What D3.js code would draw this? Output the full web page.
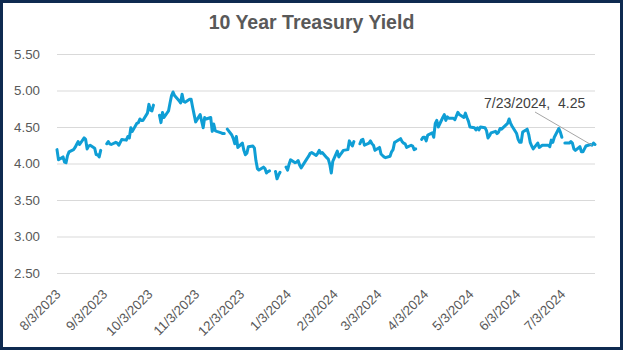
<!DOCTYPE html>
<html>
<head>
<meta charset="utf-8">
<script src="https://cdn.jsdelivr.net/npm/d3@7"></script>
<style>
  html, body { margin: 0; padding: 0; background: #fff; }
  svg { display: block; }
</style>
</head>
<body>
<svg id="chart" width="623" height="350"></svg>
<script>
// Daily 10-year Treasury yield (%); null marks a market holiday (gap in the line)
const dates = [
  "2023-08-03","2023-08-04","2023-08-07","2023-08-08","2023-08-09","2023-08-10","2023-08-11",
  "2023-08-14","2023-08-15","2023-08-16","2023-08-17","2023-08-18","2023-08-21","2023-08-22",
  "2023-08-23","2023-08-24","2023-08-25","2023-08-28","2023-08-29","2023-08-30","2023-08-31",
  "2023-09-01","2023-09-04","2023-09-05","2023-09-06","2023-09-07","2023-09-08","2023-09-11",
  "2023-09-12","2023-09-13","2023-09-14","2023-09-15","2023-09-18","2023-09-19","2023-09-20",
  "2023-09-21","2023-09-22","2023-09-25","2023-09-26","2023-09-27","2023-09-28","2023-09-29",
  "2023-10-02","2023-10-03","2023-10-04","2023-10-05","2023-10-06","2023-10-09","2023-10-10",
  "2023-10-11","2023-10-12","2023-10-13","2023-10-16","2023-10-17","2023-10-18","2023-10-19",
  "2023-10-20","2023-10-23","2023-10-24","2023-10-25","2023-10-26","2023-10-27","2023-10-30",
  "2023-10-31","2023-11-01","2023-11-02","2023-11-03","2023-11-06","2023-11-07","2023-11-08",
  "2023-11-09","2023-11-10","2023-11-13","2023-11-14","2023-11-15","2023-11-16","2023-11-17",
  "2023-11-20","2023-11-21","2023-11-22","2023-11-23","2023-11-24","2023-11-27","2023-11-28",
  "2023-11-29","2023-11-30","2023-12-01","2023-12-04","2023-12-05","2023-12-06","2023-12-07",
  "2023-12-08","2023-12-11","2023-12-12","2023-12-13","2023-12-14","2023-12-15","2023-12-18",
  "2023-12-19","2023-12-20","2023-12-21","2023-12-22","2023-12-25","2023-12-26","2023-12-27",
  "2023-12-28","2023-12-29","2024-01-01","2024-01-02","2024-01-03","2024-01-04","2024-01-05",
  "2024-01-08","2024-01-09","2024-01-10","2024-01-11","2024-01-12","2024-01-16","2024-01-17",
  "2024-01-18","2024-01-19","2024-01-22","2024-01-23","2024-01-24","2024-01-25","2024-01-26",
  "2024-01-29","2024-01-30","2024-01-31","2024-02-01","2024-02-02","2024-02-05","2024-02-06",
  "2024-02-07","2024-02-08","2024-02-09","2024-02-12","2024-02-13","2024-02-14","2024-02-15",
  "2024-02-16","2024-02-19","2024-02-20","2024-02-21","2024-02-22","2024-02-23","2024-02-26",
  "2024-02-27","2024-02-28","2024-02-29","2024-03-01","2024-03-04","2024-03-05","2024-03-06",
  "2024-03-07","2024-03-08","2024-03-11","2024-03-12","2024-03-13","2024-03-14","2024-03-15",
  "2024-03-18","2024-03-19","2024-03-20","2024-03-21","2024-03-22","2024-03-25","2024-03-26",
  "2024-03-27","2024-03-28","2024-03-29","2024-04-01","2024-04-02","2024-04-03","2024-04-04",
  "2024-04-05","2024-04-08","2024-04-09","2024-04-10","2024-04-11","2024-04-12","2024-04-15",
  "2024-04-16","2024-04-17","2024-04-18","2024-04-19","2024-04-22","2024-04-23","2024-04-24",
  "2024-04-25","2024-04-26","2024-04-29","2024-04-30","2024-05-01","2024-05-02","2024-05-03",
  "2024-05-06","2024-05-07","2024-05-08","2024-05-09","2024-05-10","2024-05-13","2024-05-14",
  "2024-05-15","2024-05-16","2024-05-17","2024-05-20","2024-05-21","2024-05-22","2024-05-23",
  "2024-05-24","2024-05-28","2024-05-29","2024-05-30","2024-05-31","2024-06-03","2024-06-04",
  "2024-06-05","2024-06-06","2024-06-07","2024-06-10","2024-06-11","2024-06-12","2024-06-13",
  "2024-06-14","2024-06-17","2024-06-18","2024-06-20","2024-06-21","2024-06-24","2024-06-25",
  "2024-06-26","2024-06-27","2024-06-28","2024-07-01","2024-07-02","2024-07-03","2024-07-04",
  "2024-07-05","2024-07-08","2024-07-09","2024-07-10","2024-07-11","2024-07-12","2024-07-15",
  "2024-07-16","2024-07-17","2024-07-18","2024-07-19","2024-07-22","2024-07-23","2024-07-24",
  "2024-07-25"
];
const yields = [
  4.19,4.05,4.09,4.02,4.01,4.11,4.16,
  4.19,4.22,4.26,4.30,4.26,4.35,4.33,
  4.20,4.24,4.25,4.21,4.12,4.12,4.09,
  4.18,null,4.27,4.30,4.27,4.26,4.29,
  4.28,4.25,4.29,4.33,4.32,4.37,4.35,
  4.49,4.44,4.55,4.56,4.61,4.59,4.59,
  4.69,4.81,4.73,4.72,4.80,null,4.66,
  4.56,4.70,4.63,4.72,4.83,4.93,4.98,
  4.93,4.86,4.83,4.95,4.85,4.84,4.88,
  4.88,4.77,4.67,4.57,4.67,4.58,4.49,
  4.63,4.61,4.63,4.44,4.54,4.45,4.44,
  4.42,4.41,4.41,null,4.47,4.39,4.34,
  4.27,4.37,4.22,4.28,4.18,4.12,4.14,
  4.23,4.24,4.21,4.04,3.93,3.91,3.95,
  3.93,3.87,3.89,3.90,null,3.89,3.79,
  3.84,3.88,null,3.95,3.91,3.99,4.05,
  4.01,4.02,4.04,3.98,3.94,4.07,4.10,
  4.14,4.15,4.11,4.14,4.18,4.14,4.15,
  4.08,4.06,3.99,3.87,4.03,4.17,4.09,
  4.12,4.15,4.18,4.19,4.31,4.27,4.24,
  4.30,null,4.27,4.32,4.33,4.25,4.28,
  4.31,4.27,4.25,4.18,4.22,4.13,4.11,
  4.09,4.08,4.10,4.16,4.19,4.29,4.30,
  4.34,4.30,4.28,4.27,4.22,4.25,4.24,
  4.19,4.20,null,4.33,4.36,4.36,4.31,
  4.39,4.42,4.36,4.55,4.59,4.50,4.63,
  4.67,4.59,4.64,4.62,4.62,4.60,4.65,
  4.70,4.67,4.63,4.69,4.63,4.58,4.50,
  4.49,4.46,4.49,4.46,4.50,4.49,4.45,
  4.35,4.38,4.42,4.44,4.41,4.43,4.48,
  4.47,4.55,4.61,4.55,4.51,4.41,4.33,
  4.29,4.29,4.43,4.47,4.40,4.29,4.24,
  4.20,4.28,4.22,4.25,4.25,4.25,4.23,
  4.32,4.29,4.36,4.48,4.43,4.36,null,
  4.28,4.28,4.30,4.28,4.20,4.18,4.23,
  4.16,4.16,4.20,4.24,4.26,4.25,4.28,
  4.26
];

const yTicks = [2.5, 3.0, 3.5, 4.0, 4.5, 5.0, 5.5];
const xTickDates = [
  "2023-08-03","2023-09-03","2023-10-03","2023-11-03","2023-12-03","2024-01-03",
  "2024-02-03","2024-03-03","2024-04-03","2024-05-03","2024-06-03","2024-07-03"
];
const titleText = "10 Year Treasury Yield";
const labelDate = "2024-07-23";
const labelValue = 4.25;

const parse = d3.timeParse("%Y-%m-%d");
const fmtDate = d => `${d.getMonth() + 1}/${d.getDate()}/${d.getFullYear()}`;

const series = dates.map((d, i) => ({ date: parse(d), value: yields[i] }));

const W = 623, H = 350;
const plot = { left: 57, right: 595, top: 54, bottom: 273 };

const svg = d3.select("#chart");

// background + frame
svg.append("rect")
  .attr("x", 1.5).attr("y", 1.5)
  .attr("width", W - 3).attr("height", H - 3)
  .attr("fill", "#fff")
  .attr("stroke", "#0E2A50").attr("stroke-width", 3);

const x = d3.scaleTime()
  .domain([parse(dates[0]), parse(dates[dates.length - 1])])
  .range([plot.left, plot.right]);

const y = d3.scaleLinear()
  .domain([2.5, 5.5])
  .range([plot.bottom, plot.top]);

// title
svg.append("text")
  .attr("x", 311.5).attr("y", 29)
  .attr("text-anchor", "middle")
  .attr("font-family", "'Liberation Sans', Arial, sans-serif")
  .attr("font-weight", "bold")
  .attr("font-size", 19.5)
  .attr("fill", "#595959")
  .text(titleText);

// y axis with gridlines
const yAxis = svg.append("g")
  .attr("transform", `translate(${plot.left},0)`)
  .call(d3.axisLeft(y)
    .tickValues(yTicks)
    .tickFormat(d3.format(".2f"))
    .tickSize(-(plot.right - plot.left))
    .tickPadding(17));
yAxis.select(".domain").remove();
yAxis.selectAll(".tick line").attr("stroke", "#D9D9D9").attr("stroke-width", 1);
yAxis.selectAll(".tick text")
  .attr("font-family", "'Liberation Sans', Arial, sans-serif")
  .attr("font-size", 13.3)
  .attr("fill", "#595959");

// x axis (date labels only)
const xAxis = svg.append("g")
  .attr("transform", `translate(0,${plot.bottom})`)
  .call(d3.axisBottom(x)
    .tickValues(xTickDates.map(parse))
    .tickFormat(fmtDate)
    .tickSize(0));
xAxis.select(".domain").remove();
xAxis.selectAll(".tick text")
  .attr("font-family", "'Liberation Sans', Arial, sans-serif")
  .attr("font-size", 13.3)
  .attr("fill", "#595959")
  .attr("text-anchor", "end")
  .attr("x", 0).attr("y", 0).attr("dy", 0)
  .attr("transform", "translate(4,22) rotate(-45)");

// yield line, broken at holidays
const line = d3.line()
  .defined(d => d.value !== null)
  .x(d => x(d.date))
  .y(d => y(d.value));

svg.append("path")
  .datum(series)
  .attr("d", line)
  .attr("fill", "none")
  .attr("stroke", "#0F9ED5")
  .attr("stroke-width", 3)
  .attr("stroke-linejoin", "round")
  .attr("stroke-linecap", "round");

// data label with leader line
const px = x(parse(labelDate)), py = y(labelValue);
svg.append("line")
  .attr("x1", px).attr("y1", py)
  .attr("x2", 535).attr("y2", 112)
  .attr("stroke", "#A6A6A6").attr("stroke-width", 1);

svg.append("text")
  .attr("x", 484).attr("y", 108)
  .attr("font-family", "'Liberation Sans', Arial, sans-serif")
  .attr("font-size", 14)
  .attr("fill", "#404040")
  .attr("xml:space", "preserve")
  .style("white-space", "pre")
  .text(`${fmtDate(parse(labelDate))},  ${labelValue.toFixed(2)}`);
</script>
</body>
</html>
